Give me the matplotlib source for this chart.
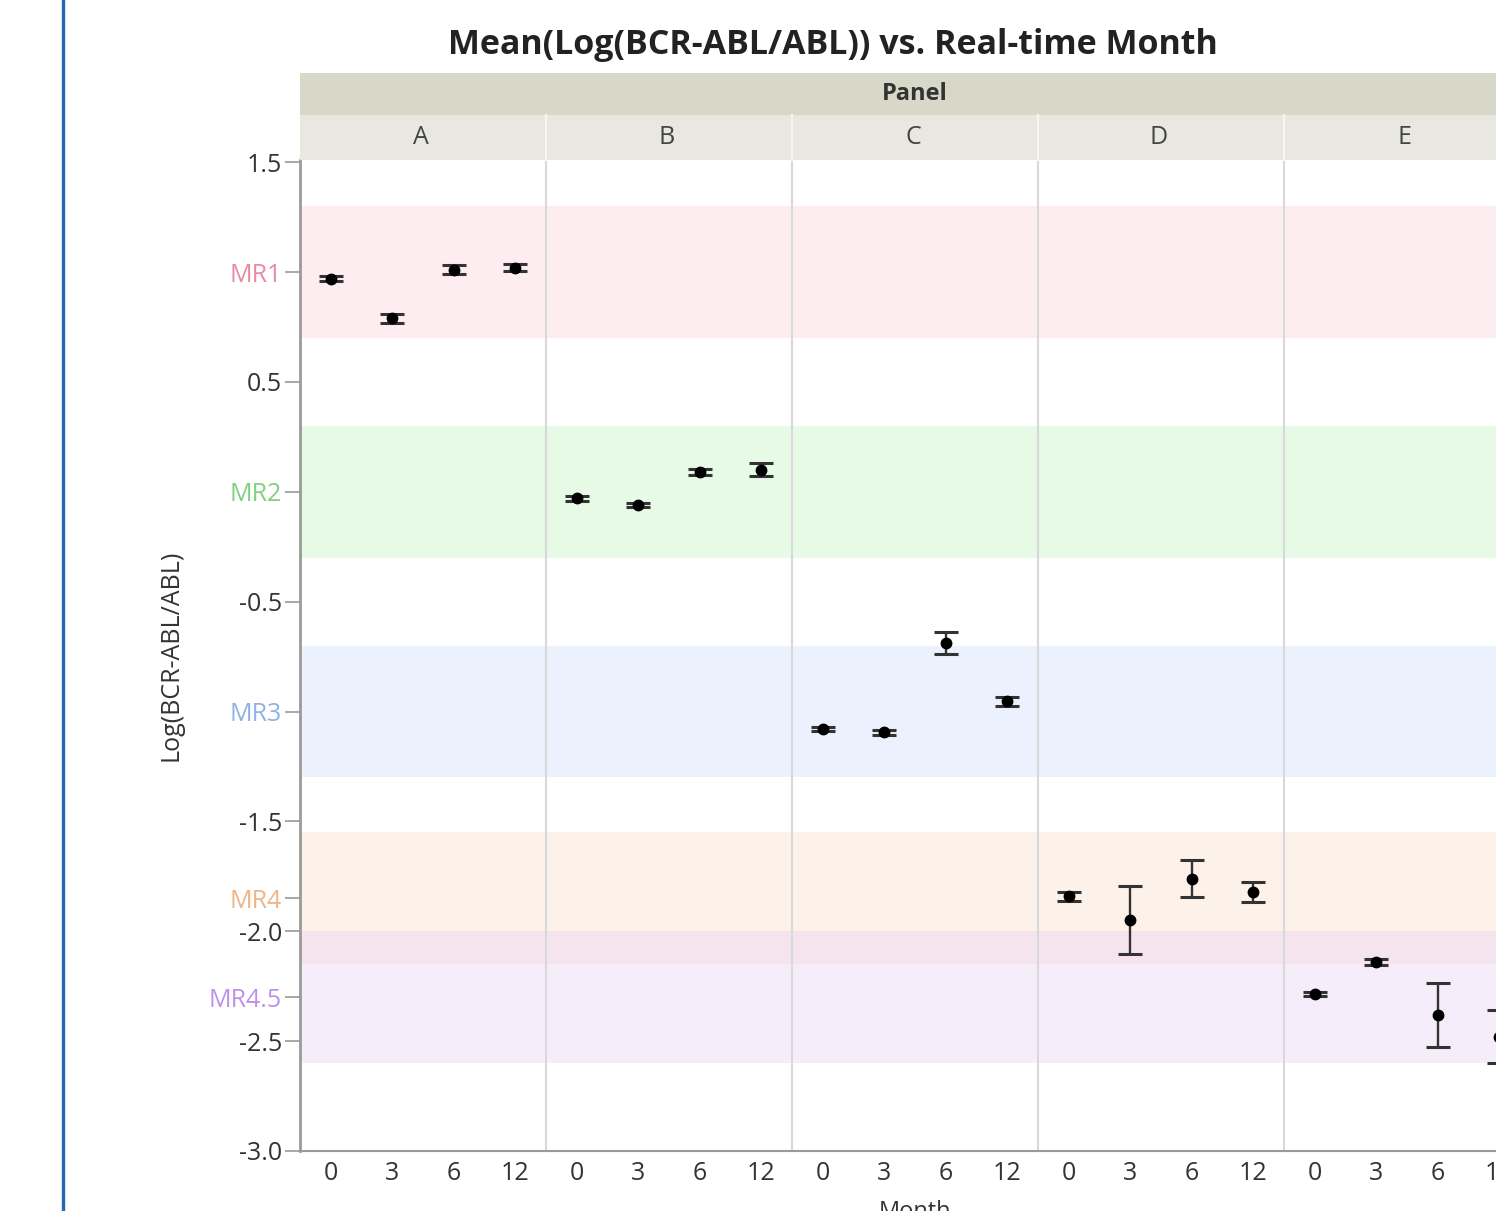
import matplotlib
matplotlib.use('Agg')
import matplotlib.pyplot as plt
from matplotlib.patches import Rectangle
from matplotlib.lines import Line2D

plt.rcParams['font.family'] = ['Open Sans', 'DejaVu Sans']

# data
panels = ['A', 'B', 'C', 'D', 'E']
months = ['0', '3', '6', '12']

mean_a = [0.97, 0.79, 1.01, 1.02]
err_a = [0.01, 0.02, 0.02, 0.015]
mean_b = [-0.03, -0.06, 0.09, 0.10]
err_b = [0.01, 0.01, 0.015, 0.03]
mean_c = [-1.08, -1.095, -0.69, -0.953]
err_c = [0.01, 0.01, 0.05, 0.02]
mean_d = [-1.84, -1.95, -1.76, -1.82]
err_d = [0.02, 0.155, 0.085, 0.045]
mean_e = [-2.285, -2.14, -2.38, -2.48]
err_e = [0.01, 0.015, 0.145, 0.12]

zone_names = ['MR1', 'MR2', 'MR3', 'MR4', 'MR4.5']
zone_centers = [1.0, 0.0, -1.0, -1.85, -2.3]
zone_half = 0.3
num_ticks = [1.5, 0.5, -0.5, -1.5, -2.0, -2.5, -3.0]

means = [mean_a, mean_b, mean_c, mean_d, mean_e]
errs = [err_a, err_b, err_c, err_d, err_e]

zone_fill = [(0.99, 0.80, 0.85, 0.35), (0.72, 0.95, 0.72, 0.35), (0.78, 0.86, 0.98, 0.35),
             (0.98, 0.84, 0.73, 0.3), (0.90, 0.78, 0.96, 0.32)]
zone_text = ['#e98aa0', '#7fd07f', '#8fb2e3', '#efb486', '#bf90ea']

W, H = 1496, 1211
fig = plt.figure(figsize=(W / 100, H / 100), dpi=100, facecolor='white')

left0, pw = 300, 246
top, bot = 160, 1151

axes = []
for i, p in enumerate(panels):
    ax = fig.add_axes([(left0 + pw * i) / W, 1 - bot / H, pw / W, (bot - top) / H])
    axes.append(ax)
    for c, col in zip(zone_centers, zone_fill):
        ax.axhspan(c - zone_half, c + zone_half, color=col, lw=0, zorder=0)
    x = range(len(months))
    ax.errorbar(x, means[i], yerr=errs[i], fmt='o', color='black', ms=7.5,
                ecolor='#333333', elinewidth=1.7, capsize=8.5, capthick=2.2, zorder=3)
    ax.set_xlim(-0.5, 3.5)
    ax.set_ylim(-3.0, 1.51)
    ax.set_xticks(list(x))
    ax.set_xticklabels(months, fontsize=18, color='#333333')
    ax.tick_params(axis='x', length=0, pad=7)
    for s in ['top', 'right']:
        ax.spines[s].set_visible(False)
    ax.spines['bottom'].set_color('#9a9a9a')
    ax.spines['bottom'].set_linewidth(1.5)
    if i == 0:
        ax.spines['left'].set_color('#9a9a9a')
        ax.spines['left'].set_linewidth(2)
        ticks = num_ticks + zone_centers
        labels = [f'{t:.1f}' for t in num_ticks] + zone_names
        ax.set_yticks(ticks)
        ax.set_yticklabels(labels, fontsize=18, color='#333333')
        for lab, name in zip(ax.get_yticklabels()[len(num_ticks):], zone_names):
            lab.set_color(zone_text[zone_names.index(name)])
        ax.tick_params(axis='y', length=11, color='#9a9a9a', width=1.2, pad=2)
        ax.set_ylabel('Log(BCR-ABL/ABL)', fontsize=18, color='#333333', labelpad=18)
    else:
        ax.spines['left'].set_color('#d9d9d9')
        ax.spines['left'].set_linewidth(1.5)
        ax.set_yticks([])

# header rows
fig.patches.append(Rectangle((left0 / W, 1 - 115 / H), 1.2, 42 / H, transform=fig.transFigure,
                             facecolor='#d8d8c8', edgecolor='none'))
fig.patches.append(Rectangle((left0 / W, 1 - top / H), 1.2, 45 / H, transform=fig.transFigure,
                             facecolor='#e8e8e1', edgecolor='none'))
fig.text((left0 + 2.5 * pw) / W, 1 - 94 / H, 'Panel', ha='center', va='center',
         fontsize=17, fontweight='bold', color='#333333')
for i, p in enumerate(panels):
    fig.text((left0 + pw * (i + 0.5)) / W - 2 / W, 1 - 138 / H, p, ha='center', va='center',
             fontsize=18, color='#444444')
    if i > 0:
        xx = (left0 + pw * i) / W
        fig.lines.append(Line2D([xx, xx], [1 - top / H, 1 - 115 / H], transform=fig.transFigure,
                                color='#f6f6f2', lw=1.5))

fig.text(833 / W, 1 - 45 / H, 'Mean(Log(BCR-ABL/ABL)) vs. Real-time Month', ha='center',
         va='center', fontsize=24.5, fontweight='bold', color='#222222')
fig.text((left0 + 2.5 * pw) / W, 1 - 1212 / H, 'Month', ha='center', va='center',
         fontsize=17, color='#333333')

# blue frame edge on the left
fig.lines.append(Line2D([63 / W, 63 / W], [0, 1], transform=fig.transFigure,
                        color='#2468b4', lw=2.4))

fig.savefig('out.png', dpi=100)
